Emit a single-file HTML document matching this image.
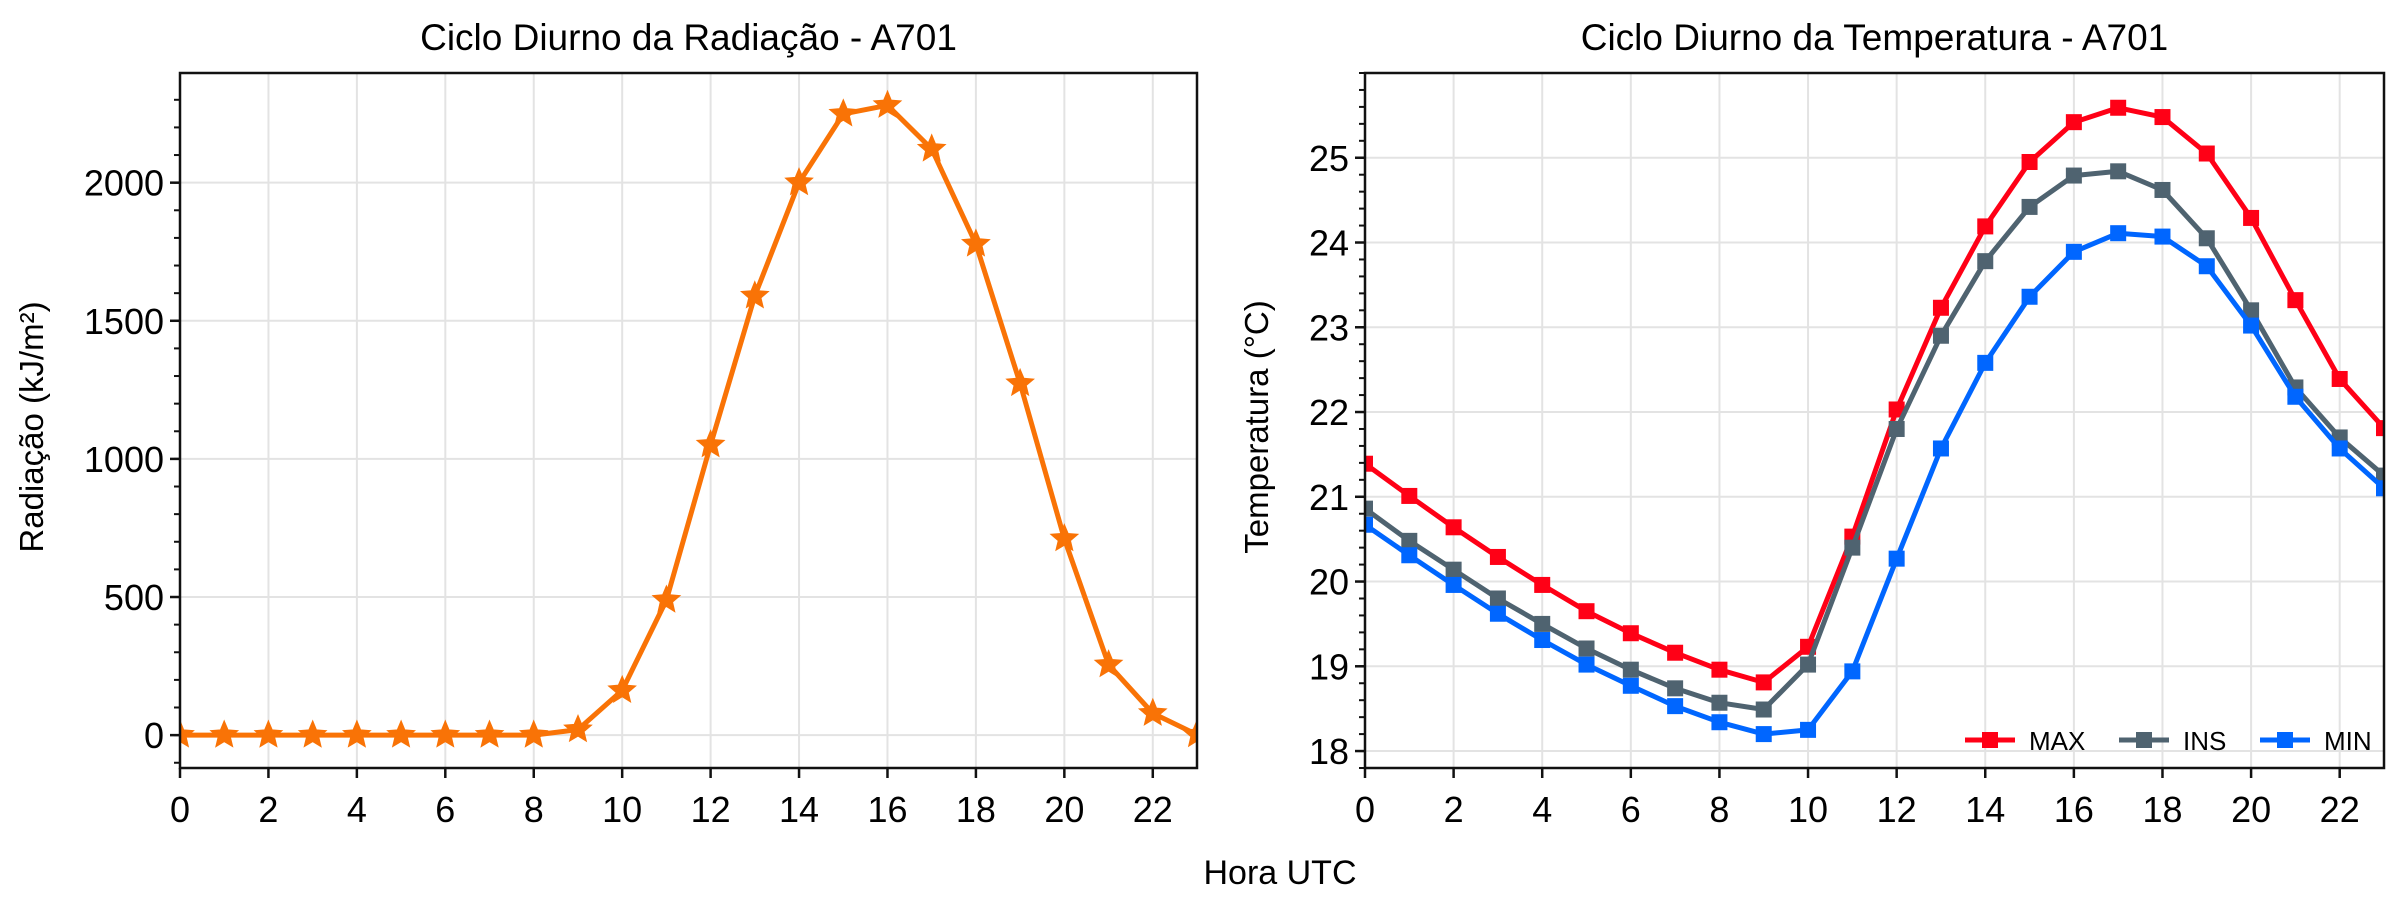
<!DOCTYPE html>
<html><head><meta charset="utf-8"><style>
html,body{margin:0;padding:0;background:#fff;}
svg{display:block;font-family:"Liberation Sans",sans-serif;}
</style></head><body>
<svg id="fig" width="2400" height="900" viewBox="0 0 2400 900"></svg>
<script>
const hours = [0,1,2,3,4,5,6,7,8,9,10,11,12,13,14,15,16,17,18,19,20,21,22,23];
const radiacao = [0,0,0,0,0,0,0,0,0,20,162,489,1051,1590,2000,2249,2280,2122,1778,1273,711,255,79,2];
const tempMax = [21.39,21.01,20.64,20.29,19.96,19.65,19.39,19.16,18.96,18.81,19.23,20.53,22.03,23.23,24.19,24.95,25.42,25.59,25.48,25.05,24.29,23.32,22.39,21.81];
const tempIns = [20.86,20.48,20.14,19.80,19.50,19.21,18.96,18.74,18.57,18.49,19.02,20.40,21.80,22.90,23.78,24.42,24.79,24.84,24.62,24.05,23.20,22.29,21.70,21.25];
const tempMin = [20.67,20.31,19.96,19.62,19.31,19.02,18.77,18.53,18.34,18.20,18.25,18.94,20.27,21.57,22.58,23.36,23.89,24.11,24.07,23.72,23.02,22.18,21.57,21.10];
const xTicks = [0,2,4,6,8,10,12,14,16,18,20,22];
const radTicks = [0,500,1000,1500,2000];
const tempTicks = [18,19,20,21,22,23,24,25];
const seriesNames = ["MAX","INS","MIN"];

const NS="http://www.w3.org/2000/svg";
const svg=document.getElementById('fig');
function el(tag,attrs,parent){const e=document.createElementNS(NS,tag);for(const k in attrs)e.setAttribute(k,attrs[k]);(parent||svg).appendChild(e);return e;}

function makeAxes(cfg){
  const g=el('g',{});
  
  
  const X=v=>cfg.x0+(v-cfg.xmin)/(cfg.xmax-cfg.xmin)*(cfg.x1-cfg.x0);
  const Y=v=>cfg.y1-(v-cfg.ymin)/(cfg.ymax-cfg.ymin)*(cfg.y1-cfg.y0);
  const clipId=cfg.name+'-clip';
  const cp=el('clipPath',{id:clipId},g);el('rect',{x:cfg.x0,y:cfg.y0,width:cfg.x1-cfg.x0,height:cfg.y1-cfg.y0},cp);
  // grid
  xTicks.forEach(t=>{const l=el('line',{x1:X(t),x2:X(t),y1:cfg.y0,y2:cfg.y1,stroke:'#e3e3e3','stroke-width':2},g);
    });
  cfg.yticks.forEach(t=>{const l=el('line',{x1:cfg.x0,x2:cfg.x1,y1:Y(t),y2:Y(t),stroke:'#e3e3e3','stroke-width':2},g);
    });
  // minor y ticks
  for(let v=cfg.minorStart;v<=cfg.ymax+1e-9;v+=cfg.minorStep){
    el('line',{x1:cfg.x0-6,x2:cfg.x0,y1:Y(v),y2:Y(v),stroke:'#111','stroke-width':2},g);
  }
  // major ticks
  xTicks.forEach(t=>{el('line',{x1:X(t),x2:X(t),y1:cfg.y1,y2:cfg.y1+10,stroke:'#111','stroke-width':2.5},g);
    const tx=el('text',{x:X(t),y:822,'font-size':36,'text-anchor':'middle',fill:'#000'},g);tx.textContent=t;
    });
  cfg.yticks.forEach(t=>{el('line',{x1:cfg.x0-10,x2:cfg.x0,y1:Y(t),y2:Y(t),stroke:'#111','stroke-width':2.5},g);
    const tx=el('text',{x:cfg.x0-16,y:Y(t)+13,'font-size':36,'text-anchor':'end',fill:'#000'},g);tx.textContent=t;
    });
  // title
  const ti=el('text',{x:(cfg.x0+cfg.x1)/2,y:50,'font-size':37,'text-anchor':'middle',fill:'#000'},g);ti.textContent=cfg.title;
  
  const yl=el('text',{x:0,y:0,'font-size':33,'text-anchor':'middle',fill:'#000',transform:`translate(${cfg.ylx},427) rotate(-90)`},g);yl.textContent=cfg.ylabel;
  
  const plot=el('g',{'clip-path':`url(#${clipId})`},g);
  return {g,plot,X,Y,cfg};
}

function starPath(cx,cy,r){let d='';for(let i=0;i<10;i++){const a=-Math.PI/2+i*Math.PI/5;const rr=i%2?r*0.45:r;d+=(i?'L':'M')+(cx+rr*Math.cos(a)).toFixed(1)+','+(cy+rr*Math.sin(a)).toFixed(1);}return d+'Z';}

function drawSeries(ax,xs,ys,color,marker,name){
  const sg=el('g',{},ax.plot);
  
  
  const pts=xs.map((x,i)=>ax.X(x).toFixed(1)+','+ax.Y(ys[i]).toFixed(1)).join(' ');
  el('polyline',{points:pts,fill:'none',stroke:color,'stroke-width':5,'stroke-linejoin':'round'},sg);
  xs.forEach((x,i)=>{
    const cx=ax.X(x),cy=ax.Y(ys[i]);
    let m;
    if(marker==='star') m=el('path',{d:starPath(cx,cy,13),fill:color,stroke:color,'stroke-width':2},sg);
    else m=el('rect',{x:cx-8,y:cy-8,width:16,height:16,fill:color},sg);
    
    
  });
}

const axL=makeAxes({name:'radiation-chart',x0:180,x1:1197,y0:73,y1:768,xmin:0,xmax:23,ymin:-119,ymax:2397,
  yticks:radTicks,minorStart:-100,minorStep:100,title:'Ciclo Diurno da Radiação - A701',ylabel:'Radiação (kJ/m²)',ylx:43});
drawSeries(axL,hours,radiacao,'#f97306','star','radiation-line');
const axR=makeAxes({name:'temperature-chart',x0:1365,x1:2384,y0:73,y1:768,xmin:0,xmax:23,ymin:17.8,ymax:26.0,
  yticks:tempTicks,minorStart:17.8,minorStep:0.2,title:'Ciclo Diurno da Temperatura - A701',ylabel:'Temperatura (°C)',ylx:1268});
const tColors=['#ff0016','#4f6370','#0066ff'];
[tempMax,tempIns,tempMin].forEach((s,i)=>drawSeries(axR,hours,s,tColors[i],'square',seriesNames[i].toLowerCase()+'-temp-line'));

// frames
[axL,axR].forEach(a=>{const r=el('rect',{x:a.cfg.x0,y:a.cfg.y0,width:a.cfg.x1-a.cfg.x0,height:a.cfg.y1-a.cfg.y0,fill:'none',stroke:'#111','stroke-width':2.5},a.g);
  });

// legend
const lg=el('g',{});


const lx=[1965,2119,2260];
seriesNames.forEach((n,i)=>{
  const e=el('g',{},lg);
  
  
  el('line',{x1:lx[i],x2:lx[i]+50,y1:740,y2:740,stroke:tColors[i],'stroke-width':5},e);
  el('rect',{x:lx[i]+17,y:732,width:16,height:16,fill:tColors[i]},e);
  const t=el('text',{x:lx[i]+64,y:750,'font-size':26,fill:'#000'},e);t.textContent=n;
});

const xl=el('text',{x:1280,y:884,'font-size':34,'text-anchor':'middle',fill:'#000'});
xl.textContent='Hora UTC';


</script>
</body></html>
